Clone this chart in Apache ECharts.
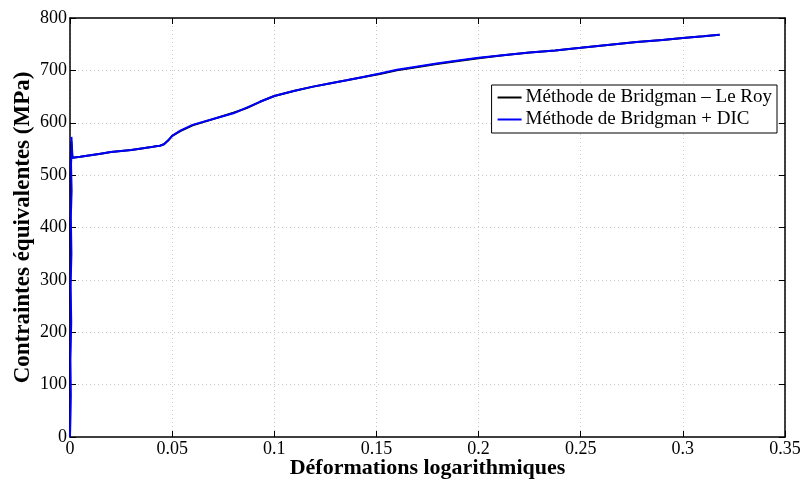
<!DOCTYPE html>
<html>
<head>
<meta charset="utf-8">
<script src="https://cdn.jsdelivr.net/npm/echarts@6/dist/echarts.min.js"></script>
<style>
html,body{margin:0;padding:0;background:#fff;}
#chart{width:801px;height:481px;}
</style>
</head>
<body>
<div id="chart"></div>
<script>
// Data
var seriesNames = ['Méthode de Bridgman – Le Roy', 'Méthode de Bridgman + DIC'];
var xTickValues = [0, 0.05, 0.1, 0.15, 0.2, 0.25, 0.3, 0.35];
var yTickValues = [0, 100, 200, 300, 400, 500, 600, 700, 800];

var strainLeRoy = [0, 0.0001, 0.0000, 0.0002, 0.0001, 0.0002, 0.0001, 0.0003, 0.0002, 0.0004, 0.0006, 0.0009, 0.0012,
  0.005, 0.010, 0.015, 0.020, 0.025, 0.030, 0.035, 0.039, 0.042, 0.044, 0.046, 0.048, 0.050, 0.054, 0.060, 0.070, 0.080,
  0.0865, 0.093, 0.100, 0.110, 0.119, 0.127, 0.1354, 0.143, 0.1517, 0.160, 0.1695, 0.1795, 0.190, 0.200, 0.212,
  0.225, 0.2375, 0.250, 0.262, 0.2774, 0.290, 0.300, 0.310, 0.318];
var stressLeRoy = [0, 70, 140, 210, 280, 340, 400, 450, 500, 540, 565, 548, 533,
  535, 538, 541, 544, 546, 548, 551, 553, 555, 556, 559, 566, 575, 584, 595, 607, 619,
  628, 640, 651, 661, 669, 675, 681, 687, 693, 700, 706, 712, 718, 723, 729,
  734, 738, 743, 748, 754, 758, 762, 765, 768];

var strainDIC = [0, 0.0004, 0.0002, 0.0006, 0.0003, 0.0007, 0.0004, 0.0008, 0.0005, 0.0009, 0.0007, 0.0010, 0.0012,
  0.005, 0.010, 0.015, 0.020, 0.025, 0.030, 0.035, 0.039, 0.042, 0.044, 0.046, 0.048, 0.050, 0.054, 0.060, 0.070, 0.080,
  0.0865, 0.093, 0.100, 0.110, 0.119, 0.127, 0.1354, 0.143, 0.1517, 0.160, 0.1695, 0.1795, 0.190, 0.200, 0.212,
  0.225, 0.2375, 0.250, 0.262, 0.2774, 0.290, 0.300, 0.310, 0.318];
var stressDIC = [0, 80, 150, 220, 290, 350, 420, 470, 520, 555, 573, 550, 533,
  535, 538, 541, 544, 546, 548, 551, 553, 555, 556, 559, 566, 575, 585, 596, 607, 618,
  629, 640, 651, 661, 669, 675, 681, 687, 694, 701, 707, 713, 719, 724, 729,
  734, 738, 743, 748, 754, 758, 762, 765, 768];

function pairs(xs, ys) {
  var out = [];
  for (var i = 0; i < xs.length; i++) out.push([xs[i], ys[i]]);
  return out;
}

var FONT = '"Liberation Serif", "Times New Roman", serif';
var chart = echarts.init(document.getElementById('chart'));

var axisLineStyle = { color: '#000', width: 1.5 };
var gridLine = { show: true, lineStyle: { color: '#c8c8c8', type: [1, 3], width: 1 } };

chart.setOption({
  animation: false,
  backgroundColor: '#fff',
  grid: { left: 70, right: 16, top: 18, bottom: 44, containLabel: false, outerBoundsMode: 'none' },
  legend: {
    data: seriesNames.map(function (n) { return { name: n, icon: 'rect' }; }),
    orient: 'vertical',
    right: 24,
    top: 85,
    backgroundColor: '#fff',
    borderColor: '#000',
    borderWidth: 1,
    borderRadius: 0,
    padding: [3, 5, 4, 6],
    itemGap: 3,
    itemWidth: 24,
    itemHeight: 2,
    textStyle: { fontFamily: FONT, fontSize: 19, color: '#000', padding: [0, 0, 0, -1] }
  },
  xAxis: [{
    type: 'value',
    min: 0, max: 0.35, interval: 0.05,
    position: 'bottom',
    name: 'Déformations logarithmiques',
    nameLocation: 'middle',
    nameGap: 20,
    nameMoveOverlap: false,
    nameTextStyle: { fontFamily: FONT, fontSize: 22, fontWeight: 'bold', color: '#000' },
    axisLine: { show: true, onZero: false, lineStyle: axisLineStyle },
    axisTick: { show: true, inside: true, length: 6, lineStyle: { color: '#000' } },
    axisLabel: { fontFamily: FONT, fontSize: 18, color: '#000', margin: 3,
      formatter: function (v) { return String(+v.toFixed(2)); } },
    splitLine: gridLine
  }, {
    type: 'value',
    min: 0, max: 0.35, interval: 0.05,
    position: 'top',
    axisLine: { show: true, onZero: false, lineStyle: axisLineStyle },
    axisTick: { show: true, inside: true, length: 6, lineStyle: { color: '#000' } },
    axisLabel: { show: false },
    splitLine: { show: false }
  }],
  yAxis: [{
    type: 'value',
    min: 0, max: 800, interval: 100,
    position: 'left',
    name: 'Contraintes équivalentes (MPa)',
    nameLocation: 'middle',
    nameGap: 35,
    nameMoveOverlap: false,
    nameTextStyle: { fontFamily: FONT, fontSize: 23, fontWeight: 'bold', color: '#000' },
    axisLine: { show: true, onZero: false, lineStyle: axisLineStyle },
    axisTick: { show: true, inside: true, length: 6, lineStyle: { color: '#000' } },
    axisLabel: { fontFamily: FONT, fontSize: 18, color: '#000', margin: 3 },
    splitLine: gridLine
  }, {
    type: 'value',
    min: 0, max: 800, interval: 100,
    position: 'right',
    axisLine: { show: true, onZero: false, lineStyle: axisLineStyle },
    axisTick: { show: true, inside: true, length: 6, lineStyle: { color: '#000' } },
    axisLabel: { show: false },
    splitLine: { show: false }
  }],
  series: [{
    name: seriesNames[0],
    type: 'line',
    xAxisIndex: 0, yAxisIndex: 0,
    data: pairs(strainLeRoy, stressLeRoy),
    symbol: 'none',
    lineStyle: { color: '#000', width: 2 },
    itemStyle: { color: '#000' },
    z: 3
  }, {
    name: seriesNames[1],
    type: 'line',
    xAxisIndex: 0, yAxisIndex: 0,
    data: pairs(strainDIC, stressDIC),
    symbol: 'none',
    lineStyle: { color: '#0000ff', width: 2 },
    itemStyle: { color: '#0000ff' },
    z: 4
  }]
});
</script>
</body>
</html>
